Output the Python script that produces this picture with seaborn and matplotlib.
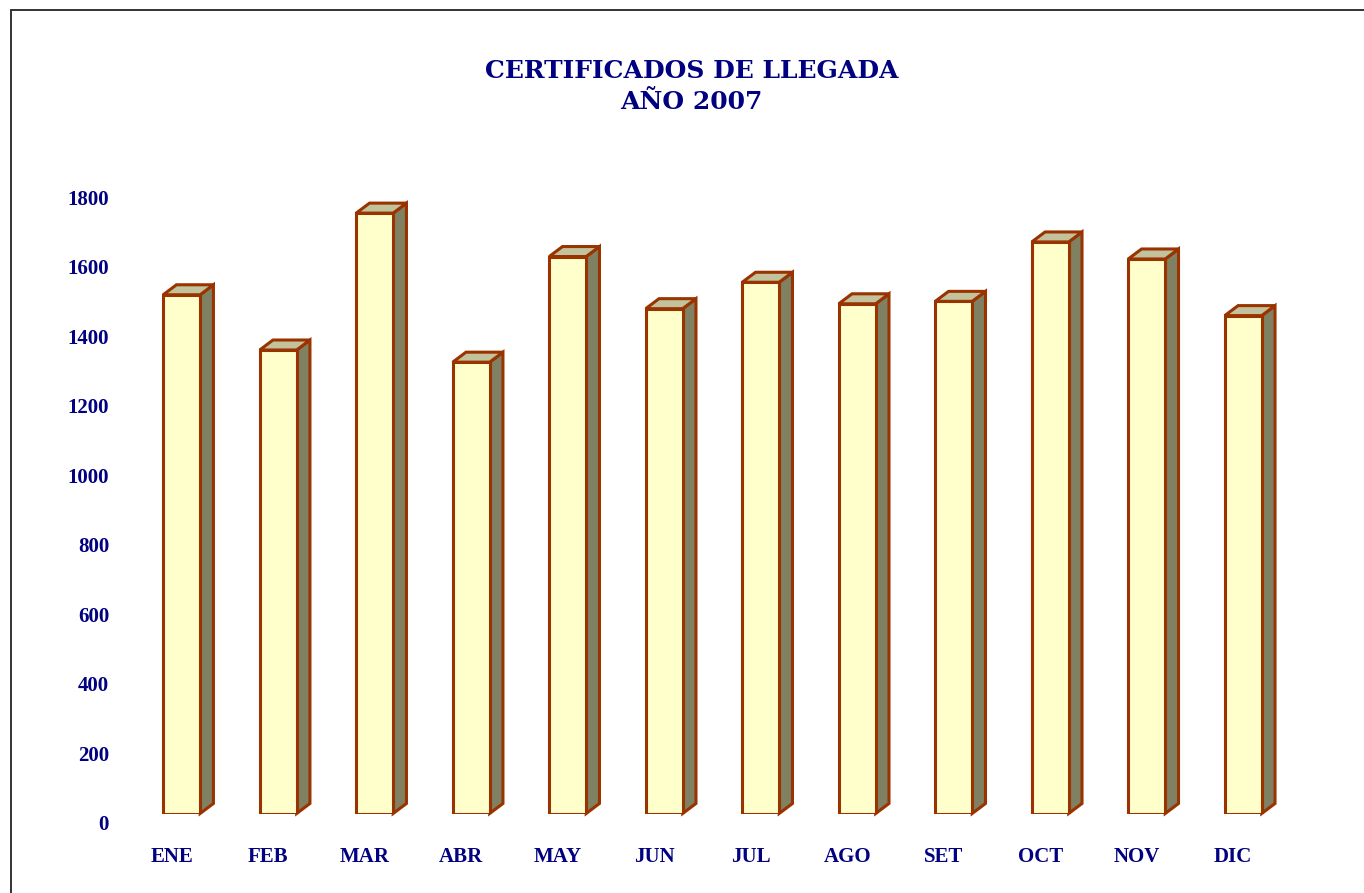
import matplotlib
matplotlib.use("Agg")
import matplotlib.pyplot as plt
import matplotlib.transforms as mtransforms
from matplotlib.patches import Polygon, Rectangle
import seaborn as sns
import pandas as pd

# ---- data ----
months = ["ENE", "FEB", "MAR", "ABR", "MAY", "JUN", "JUL", "AGO", "SET", "OCT", "NOV", "DIC"]
certificados = [1493, 1334, 1728, 1299, 1603, 1453, 1529, 1467, 1474, 1645, 1596, 1433]
y_ticks = [0, 200, 400, 600, 800, 1000, 1200, 1400, 1600, 1800]
title_text = "CERTIFICADOS DE LLEGADA\nAÑO 2007"

NAVY = "#000080"
FRONT = "#FFFFCC"
EDGE = "#993300"
SIDE = "#808062"
TOP = "#C2C29C"

sns.set_theme(style="white")
plt.rcParams["font.family"] = ["Liberation Serif", "DejaVu Serif"]

W, H, DPI = 1364, 893, 100
fig = plt.figure(figsize=(W / DPI, H / DPI), dpi=DPI)
fig.patch.set_facecolor("white")

left_px, right_px = 133.4, 1291.5
bottom_px, top_px = 813.5, 188.1
ax = fig.add_axes([left_px / W, (H - bottom_px) / H,
                   (right_px - left_px) / W, (bottom_px - top_px) / H])

df = pd.DataFrame({"mes": months, "valor": certificados})
sns.barplot(data=df, x="mes", y="valor", color=FRONT, saturation=1,
            edgecolor=EDGE, linewidth=2.2, width=0.383, ax=ax, zorder=3)

ax.set_ylim(0, 1800)
ax.set_xlim(-0.5, len(months) - 0.5)
ax.set_yticks(y_ticks)
ax.set_yticklabels([str(t) for t in y_ticks])
ax.set_xlabel("")
ax.set_ylabel("")
for s in ax.spines.values():
    s.set_visible(False)
ax.grid(False)
ax.set_facecolor("none")
ax.tick_params(axis="y", length=0, pad=17.5, labelsize=15, labelcolor=NAVY)
ax.tick_params(axis="x", length=0, pad=24, labelsize=15, labelcolor=NAVY)
for lab in ax.get_yticklabels():
    lab.set_fontweight("bold")
    lab.set_transform(lab.get_transform() +
                      mtransforms.ScaledTranslation(0, -9 / DPI, fig.dpi_scale_trans))
for lab in ax.get_xticklabels():
    lab.set_fontweight("bold")
    lab.set_transform(lab.get_transform() +
                      mtransforms.ScaledTranslation(-10 / DPI, 0, fig.dpi_scale_trans))

# ---- 3D side and top faces derived from the bar patches ----
dx, dy = 13.3, 10.0
ident = mtransforms.IdentityTransform()
bars = [p for p in ax.patches if isinstance(p, matplotlib.patches.Rectangle)]
for p in bars:
    (x0, y0), (x1, y1) = ax.transData.transform(
        [(p.get_x(), p.get_y()), (p.get_x() + p.get_width(), p.get_y() + p.get_height())])
    side = Polygon([(x1, y0), (x1 + dx, y0 + dy), (x1 + dx, y1 + dy), (x1, y1)],
                   closed=True, facecolor=SIDE, edgecolor=EDGE, linewidth=2.2,
                   joinstyle="miter", transform=ident, zorder=2, clip_on=False)
    top = Polygon([(x0, y1), (x0 + dx, y1 + dy), (x1 + dx, y1 + dy), (x1, y1)],
                  closed=True, facecolor=TOP, edgecolor=EDGE, linewidth=2.2,
                  joinstyle="miter", transform=ident, zorder=2, clip_on=False)
    ax.add_artist(side)
    ax.add_artist(top)

# ---- title ----
fig.text(691.5 / W, (H - 86.5) / H, title_text, ha="center", va="center",
         fontsize=18, fontweight="bold", color=NAVY, linespacing=1.42,
         family=["DejaVu Serif"])

# ---- chart border ----
fig.add_artist(Rectangle((10.5 / W, -0.1), 2.0, (H - 10.5) / H + 0.1,
                         transform=fig.transFigure, fill=False,
                         edgecolor="#222222", linewidth=1.3))

fig.savefig("out.png", dpi=DPI, facecolor="white")
